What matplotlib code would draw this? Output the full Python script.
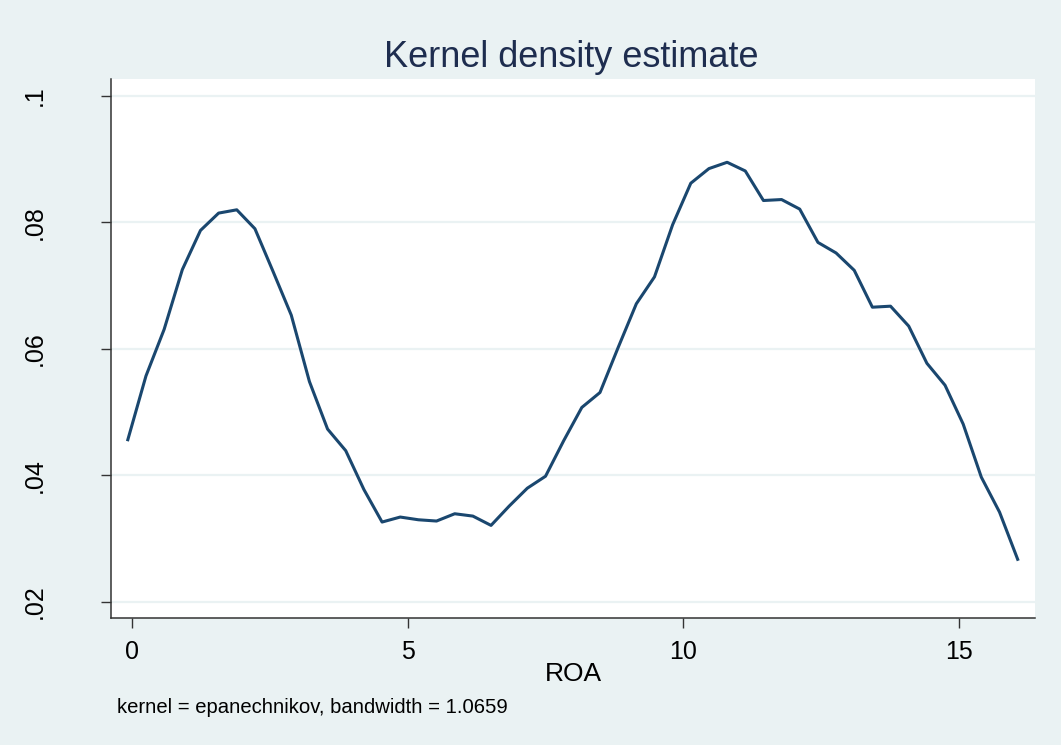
import matplotlib.pyplot as plt

# Data: kdensity ROA, 50 evaluation points
roa = [-0.070, 0.259, 0.588, 0.918, 1.247, 1.576, 1.905, 2.234, 2.564, 2.893,
       3.222, 3.551, 3.880, 4.210, 4.539, 4.868, 5.197, 5.526, 5.856, 6.185,
       6.514, 6.843, 7.172, 7.502, 7.831, 8.160, 8.489, 8.818, 9.148, 9.477,
       9.806, 10.135, 10.464, 10.794, 11.123, 11.452, 11.781, 12.110, 12.440, 12.769,
       13.098, 13.427, 13.756, 14.086, 14.415, 14.744, 15.073, 15.402, 15.732, 16.061]
density = [0.04564, 0.05572, 0.06307, 0.07252, 0.07871, 0.08145, 0.08197, 0.07898, 0.07220, 0.06532,
           0.05483, 0.04732, 0.04391, 0.03776, 0.03263, 0.03342, 0.03299, 0.03279, 0.03394, 0.03357,
           0.03210, 0.03515, 0.03798, 0.03987, 0.04548, 0.05074, 0.05310, 0.06020, 0.06712, 0.07137,
           0.07961, 0.08617, 0.08848, 0.08948, 0.08811, 0.08344, 0.08359, 0.08208, 0.07682, 0.07515,
           0.07241, 0.06658, 0.06674, 0.06359, 0.05772, 0.05425, 0.04811, 0.03972, 0.03420, 0.02674]
yticks = [0.02, 0.04, 0.06, 0.08, 0.1]
ytick_labels = ['.02', '.04', '.06', '.08', '.1']
xticks = [0, 5, 10, 15]

bg = '#eaf2f3'
navy = '#1a476f'

plt.rcParams['font.family'] = 'Liberation Sans'

fig = plt.figure(figsize=(10.61, 7.45), dpi=100, facecolor=bg)
ax = fig.add_axes([111 / 1061, 1 - 618.3 / 745, (1035 - 111) / 1061, (618.3 - 79) / 745])
ax.set_facecolor('white')

ax.plot(roa, density, color=navy, linewidth=2.2, zorder=3)

ax.set_xlim(-0.375, 16.375)
ax.set_ylim(0.01742, 0.10264)
ax.set_yticks(yticks)
ax.set_yticklabels(ytick_labels, rotation=90, va='center')
ax.set_xticks(xticks)
ax.set_xticklabels([str(t) for t in xticks])

ax.grid(axis='y', color=bg, linewidth=1.6)
ax.set_axisbelow(True)
for side in ['top', 'right']:
    ax.spines[side].set_visible(False)
for side in ['left', 'bottom']:
    ax.spines[side].set_color('#333333')
    ax.spines[side].set_linewidth(1.1)

ax.tick_params(axis='y', length=7.5, width=1.0, color='#333333', labelsize=18, pad=39)
ax.tick_params(axis='x', length=7.5, width=1.0, color='#333333', labelsize=18, pad=8)

ax.set_xlabel('ROA', fontsize=19, labelpad=-1)

fig.text(571 / 1061, 1 - 67 / 745, 'Kernel density estimate', fontsize=26,
         color='#1e2d4f', ha='center', va='baseline')
fig.text(117 / 1061, 1 - 713 / 745, 'kernel = epanechnikov, bandwidth = 1.0659',
         fontsize=14.6, ha='left', va='baseline')

plt.savefig('out.png', dpi=100, facecolor=bg)
